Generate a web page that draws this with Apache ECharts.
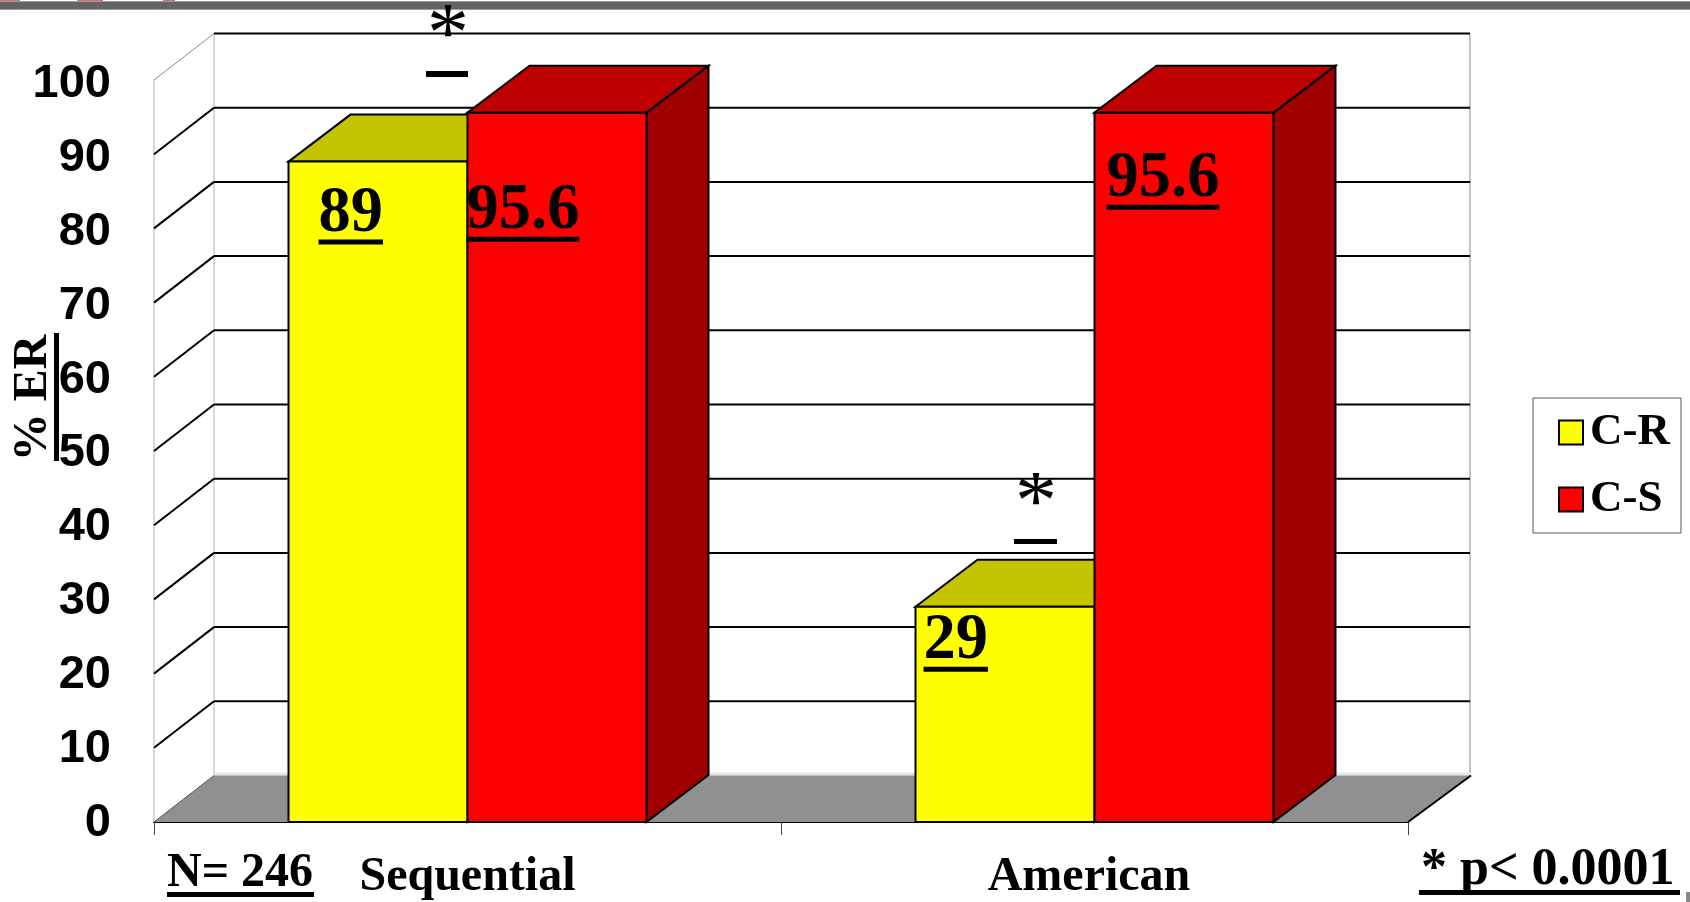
<!DOCTYPE html>
<html>
<head>
<meta charset="utf-8">
<style>html,body{margin:0;padding:0;background:#fff}#c{width:1690px;height:902px}</style>
<script src="https://cdn.jsdelivr.net/npm/echarts@6/dist/echarts.min.js"></script>
</head>
<body>
<div id="c"></div>
<script>
const categories = ['Sequential', 'American'];
const seriesNames = ['C-R', 'C-S'];
const crValues = [89, 29];
const csValues = [95.6, 95.6];
const yTicks = [0, 10, 20, 30, 40, 50, 60, 70, 80, 90, 100];

// layout constants (not data)
const SERIF = '"Liberation Serif"';
const SANS = '"Liberation Sans"';
const WALL_DX = 60, WALL_DY = 46.5, BAR_DX = 62, BAR_DY = 47, BAR_RATIO = 179 / 627;
const LABEL_SIZE = 64.5;
// [dx from bar's left edge, dy from bar's top to text baseline]
const crLabelPos = [[30, 71], [8, 53]];
const csLabelPos = [[-1, 117], [12, 85]];
const palette = {
  'C-R': {front: '#ffff00', top: '#c4c400', side: '#a0a000'},
  'C-S': {front: '#ff0000', top: '#bf0000', side: '#a00000'}
};

const measureCtx = document.createElement('canvas').getContext('2d');
function textW(t, font) { measureCtx.font = font; return measureCtx.measureText(t).width; }
function midY(baseline, size) { return baseline - 0.28 * size; }

function renderWall(params, api) {
  const cs = params.coordSys, v = api.value(1);
  const y = api.coord([0, v])[1];
  const x0 = cs.x, x1 = cs.x + cs.width;
  const bx0 = x0 + WALL_DX, bx1 = x1 + 63, by = y - WALL_DY;
  const children = [];
  const bottom = api.coord([0, 0])[1];
  const top = api.coord([0, 100])[1];
  if (v === 0) {
    children.push(
      {type: 'line', shape: {x1: x0, y1: top, x2: x0, y2: bottom}, style: {stroke: '#cccccc', lineWidth: 1.5}},
      {type: 'line', shape: {x1: bx0, y1: top - WALL_DY, x2: bx0, y2: by}, style: {stroke: '#cccccc', lineWidth: 1.5}},
      {type: 'line', shape: {x1: bx1 - 1, y1: top - WALL_DY, x2: bx1 - 1, y2: by}, style: {stroke: '#c4c4c4', lineWidth: 2}},
      {type: 'rect', shape: {x: bx0, y: by - 3, width: bx1 - bx0, height: 3}, style: {fill: '#e8e8e8'}},
      {type: 'polygon', shape: {points: [[x0, y], [bx0, by], [bx1, by], [x1, y]]},
        style: {fill: '#909090'}},
      {type: 'line', shape: {x1: x0, y1: y, x2: bx0, y2: by}, style: {stroke: '#555555', lineWidth: 1}},
      {type: 'line', shape: {x1: x1, y1: y, x2: bx1, y2: by}, style: {stroke: '#000000', lineWidth: 2}}
    );
  } else {
    children.push(
      {type: 'line', shape: {x1: x0, y1: y, x2: bx0, y2: by},
        style: {stroke: v === 100 ? '#888888' : '#000000', lineWidth: v === 100 ? 1 : 2}},
      {type: 'line', shape: {x1: bx0, y1: by, x2: bx1 - 1, y2: by}, style: {stroke: '#000000', lineWidth: 2}}
    );
  }
  return {type: 'group', children};
}

function makeBarRenderer(name, side, labelPos) {
  return function (params, api) {
    const cat = api.value(0), val = api.value(1);
    const p = api.coord([cat, val]);
    const base = api.coord([cat, 0])[1];
    const w = api.size([1, 0])[0] * BAR_RATIO;
    const l = side === 0 ? p[0] - w : p[0];
    const r = l + w, t = p[1];
    const c = palette[name];
    const edge = {stroke: '#000000', lineWidth: 2, lineJoin: 'miter'};
    const pos = labelPos[params.dataIndex];
    const tx = l + pos[0], bl = t + pos[1];
    const text = String(val);
    const font = 'bold ' + LABEL_SIZE + 'px ' + SERIF;
    return {type: 'group', children: [
      {type: 'polygon', shape: {points: [[r, t], [r + BAR_DX, t - BAR_DY], [r + BAR_DX, base - BAR_DY], [r, base]]},
        style: Object.assign({fill: c.side}, edge)},
      {type: 'polygon', shape: {points: [[l, t], [l + BAR_DX, t - BAR_DY], [r + BAR_DX, t - BAR_DY], [r, t]]},
        style: Object.assign({fill: c.top}, edge)},
      {type: 'rect', shape: {x: l, y: t, width: w, height: base - t},
        style: Object.assign({fill: c.front}, edge)},
      {type: 'text', x: tx, y: midY(bl, LABEL_SIZE),
        style: {text, fill: '#000', font, align: 'left', verticalAlign: 'middle'}},
      {type: 'rect', shape: {x: tx, y: bl + 7, width: textW(text, font), height: 5},
        style: {fill: '#000'}}
    ]};
  };
}

function label(text, x, baseline, size, weight, extra) {
  return Object.assign({type: 'text', x, y: midY(baseline, size),
    style: {text, fill: '#000', font: (weight || 'bold') + ' ' + size + 'px ' + SERIF, align: 'left', verticalAlign: 'middle'}, z: 20}, extra || {});
}
function bar(x, y, width, height, fill) {
  return {type: 'rect', shape: {x, y, width, height}, style: {fill: fill || '#000'}, z: 20};
}

const xLabelStyle = {fontFamily: SERIF, fontWeight: 'bold', fontSize: 48, color: '#000'};
const yLabelStyle = {fontFamily: SANS, fontWeight: 'bold', fontSize: 47, color: '#000'};
const yRich = {};
yTicks.forEach(t => { yRich['t' + t] = Object.assign({padding: [2 + 6 * t / 100, 0, 0, 0]}, yLabelStyle); });

const chart = echarts.init(document.getElementById('c'), null, {renderer: 'canvas'});
chart.setOption({
  animation: false,
  backgroundColor: '#ffffff',
  color: [palette['C-R'].front, palette['C-S'].front],
  grid: {left: 154, top: 80, width: 1254, height: 742, containLabel: false},
  legend: {
    data: seriesNames,
    orient: 'vertical', left: 1533, top: 398,
    padding: [12, 11, 11, 25],
    itemWidth: 24, itemHeight: 24, itemGap: 22,
    icon: 'rect',
    borderColor: '#555555', borderWidth: 1,
    itemStyle: {borderColor: '#000', borderWidth: 2},
    textStyle: {fontFamily: SERIF, fontWeight: 'bold', fontSize: 45, color: '#000', padding: [0, 0, 0, 2]},
    selectedMode: false
  },
  xAxis: {
    type: 'category', data: categories,
    axisLine: {show: true, lineStyle: {color: '#000', width: 2}},
    axisTick: {show: true, alignWithLabel: false, length: 13, lineStyle: {color: '#444', width: 1}},
    axisLabel: Object.assign({margin: 32, interval: 0,
      formatter: v => v === 'American' ? '{am|' + v + '}' : '{seq|' + v + '}',
      rich: {
        seq: Object.assign({}, xLabelStyle),
        am: Object.assign({padding: [0, 11, 0, 0]}, xLabelStyle)
      }}, xLabelStyle)
  },
  yAxis: {
    type: 'value', min: 0, max: 100, interval: 10,
    axisLine: {show: false}, axisTick: {show: false}, splitLine: {show: false},
    axisLabel: Object.assign({margin: 43, formatter: v => '{t' + v + '|' + v + '}', rich: yRich}, yLabelStyle)
  },
  series: [
    {type: 'custom', name: 'wall', coordinateSystem: 'cartesian2d', silent: true, clip: false, z: 1,
      encode: {x: 0, y: 1}, data: yTicks.map(t => [0, t]), renderItem: renderWall},
    {type: 'custom', name: seriesNames[0], coordinateSystem: 'cartesian2d', clip: false, z: 2,
      itemStyle: {color: palette['C-R'].front},
      encode: {x: 0, y: 1}, data: crValues.map((v, i) => [i, v]),
      renderItem: makeBarRenderer('C-R', 0, crLabelPos)},
    {type: 'custom', name: seriesNames[1], coordinateSystem: 'cartesian2d', clip: false, z: 3,
      itemStyle: {color: palette['C-S'].front},
      encode: {x: 0, y: 1}, data: csValues.map((v, i) => [i, v]),
      renderItem: makeBarRenderer('C-S', 1, csLabelPos)}
  ],
  graphic: [
    // browser-edge strip at the top
    bar(0, 1, 1690, 9, '#9a9a9a'),
    bar(0, 2, 1690, 7, '#636363'),
    bar(0, 0, 20, 1, '#d87070'), bar(77, 0, 26, 1, '#d87070'), bar(163, 0, 12, 1, '#d87070'),
    bar(1686, 892, 4, 10, '#888888'),
    // significance marks
    label('*', 427, 62, 84, 'normal'),
    bar(426, 71, 42, 6),
    label('*', 1015, 530, 84, 'normal'),
    bar(1014, 539, 43, 5),
    // footnotes
    label('N= 246', 167, 887, 48),
    bar(167, 892, 147, 5),
    label('* p< 0.0001', 1421, 885, 52),
    bar(1419, 890, 261, 5),
    // y-axis title, rotated
    {type: 'text', x: 58, y: 398, rotation: Math.PI / 2, z: 20,
      style: {text: '% ER', fill: '#000', font: 'bold 48px ' + SERIF, align: 'center', verticalAlign: 'bottom'}},
    bar(54, 333, 5, 128)
  ]
});
</script>
</body>
</html>
